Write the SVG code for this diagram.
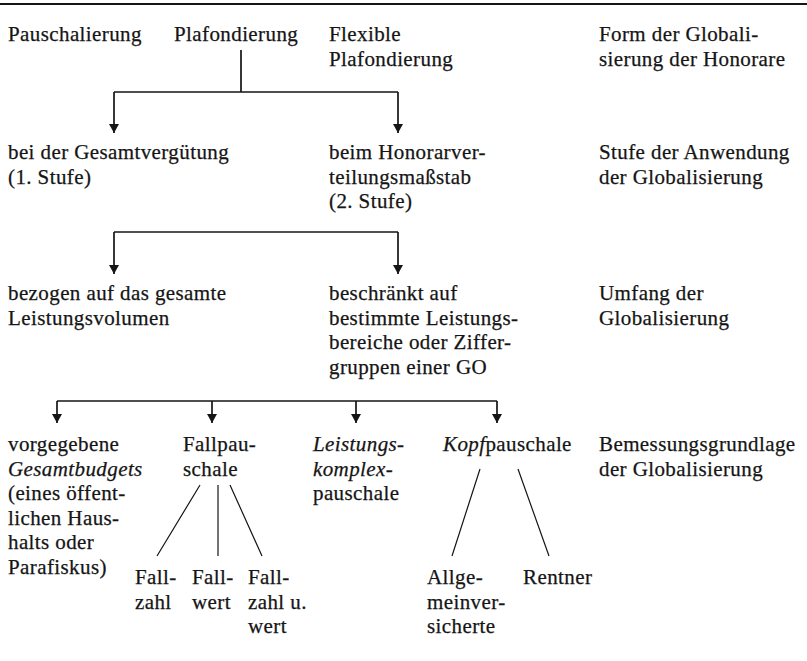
<svg xmlns="http://www.w3.org/2000/svg" width="807" height="661" viewBox="0 0 807 661">
  <defs>
    <style>
      text { font-family: "Liberation Serif", "Times New Roman", serif; font-size: 21px; fill: #151515; stroke: #151515; stroke-width: 0.25; letter-spacing: 0.4px; }
      .it { font-style: italic; }
      .conn { fill: none; stroke: #151515; stroke-width: 1.7; }
      .branch { fill: none; stroke: #151515; stroke-width: 1.2; }
      .rule { stroke: #151515; stroke-width: 2.2; }
    </style>
    <marker id="arrow" viewBox="0 0 10 11" refX="10" refY="5.5" markerWidth="11" markerHeight="10" markerUnits="userSpaceOnUse" orient="auto">
      <path d="M0,0 L10,5.5 L0,11 Z" fill="#151515"/>
    </marker>
  </defs>
  <rect width="807" height="661" fill="#ffffff"/>

  <!-- top rule -->
  <line class="rule" x1="0" y1="4" x2="807" y2="4"/>

  <!-- level 1: forms of globalisation -->
  <g id="pauschalierung"><text x="8" y="41">Pauschalierung</text></g>
  <g id="plafondierung"><text x="174" y="41">Plafondierung</text></g>
  <g id="flexible-plafondierung"><text x="329" y="41">Flexible</text><text x="329" y="65.5">Plafondierung</text></g>
  <g id="label-form"><text x="599" y="41">Form der Globali-</text><text x="599" y="65.5">sierung der Honorare</text></g>

  <!-- level 2: stage of application -->
  <g id="gesamtverguetung"><text x="8" y="159">bei der Gesamtvergütung</text><text x="8" y="183.5">(1. Stufe)</text></g>
  <g id="hvm"><text x="329" y="159">beim Honorarver-</text><text x="329" y="183.5">teilungsmaßstab</text><text x="329" y="208">(2. Stufe)</text></g>
  <g id="label-stufe"><text x="599" y="159">Stufe der Anwendung</text><text x="599" y="183.5">der Globalisierung</text></g>

  <!-- level 3: scope -->
  <g id="gesamtes-volumen"><text x="8" y="300">bezogen auf das gesamte</text><text x="8" y="324.5">Leistungsvolumen</text></g>
  <g id="beschraenkt"><text x="329" y="300">beschränkt auf</text><text x="329" y="324.5">bestimmte Leistungs-</text><text x="329" y="349">bereiche oder Ziffer-</text><text x="329" y="373.5">gruppen einer GO</text></g>
  <g id="label-umfang"><text x="599" y="300">Umfang der</text><text x="599" y="324.5">Globalisierung</text></g>

  <!-- level 4: basis of assessment -->
  <g id="gesamtbudgets">
    <text x="8" y="451">vorgegebene</text>
    <text x="8" y="475.5" class="it">Gesamtbudgets</text>
    <text x="8" y="500">(eines öffent-</text>
    <text x="8" y="524.5">lichen Haus-</text>
    <text x="8" y="549">halts oder</text>
    <text x="8" y="573.5">Parafiskus)</text>
  </g>
  <g id="fallpauschale"><text x="183" y="451">Fallpau-</text><text x="183" y="475.5">schale</text></g>
  <g id="leistungskomplex"><text x="313" y="451" class="it">Leistungs-</text><text x="313" y="475.5" class="it">komplex-</text><text x="313" y="500">pauschale</text></g>
  <g id="kopfpauschale"><text x="443" y="451"><tspan class="it">Kopf</tspan>pauschale</text></g>
  <g id="label-bemessung"><text x="599" y="451">Bemessungsgrundlage</text><text x="599" y="475.5">der Globalisierung</text></g>

  <!-- level 5: sub-types -->
  <g id="fallzahl"><text x="135" y="584">Fall-</text><text x="135" y="608.5">zahl</text></g>
  <g id="fallwert"><text x="192" y="584">Fall-</text><text x="192" y="608.5">wert</text></g>
  <g id="fallzahl-wert"><text x="248" y="584">Fall-</text><text x="248" y="608.5">zahl u.</text><text x="248" y="633">wert</text></g>
  <g id="allgemeinversicherte"><text x="427" y="584">Allge-</text><text x="427" y="608.5">meinver-</text><text x="427" y="633">sicherte</text></g>
  <g id="rentner"><text x="523" y="584">Rentner</text></g>

  <g id="connectors">
    <!-- form -> stage -->
    <path class="conn" d="M241,50 V92 M114,92 H398"/>
    <path class="conn" d="M114,92 V133" marker-end="url(#arrow)"/>
    <path class="conn" d="M398,92 V133" marker-end="url(#arrow)"/>
    <!-- stage -> scope -->
    <path class="conn" d="M114,232 H398"/>
    <path class="conn" d="M114,232 V274" marker-end="url(#arrow)"/>
    <path class="conn" d="M398,232 V274" marker-end="url(#arrow)"/>
    <!-- scope -> basis -->
    <path class="conn" d="M57,401 H497"/>
    <path class="conn" d="M57,401 V423" marker-end="url(#arrow)"/>
    <path class="conn" d="M212,401 V423" marker-end="url(#arrow)"/>
    <path class="conn" d="M356,401 V423" marker-end="url(#arrow)"/>
    <path class="conn" d="M497,401 V423" marker-end="url(#arrow)"/>
    <!-- Fallpauschale branches -->
    <path class="branch" d="M200,485 L157,556 M218,485 V556 M230,485 L262,556"/>
    <!-- Kopfpauschale branches -->
    <path class="branch" d="M480,469 L452,556 M518,469 L549,556"/>
  </g>
</svg>
